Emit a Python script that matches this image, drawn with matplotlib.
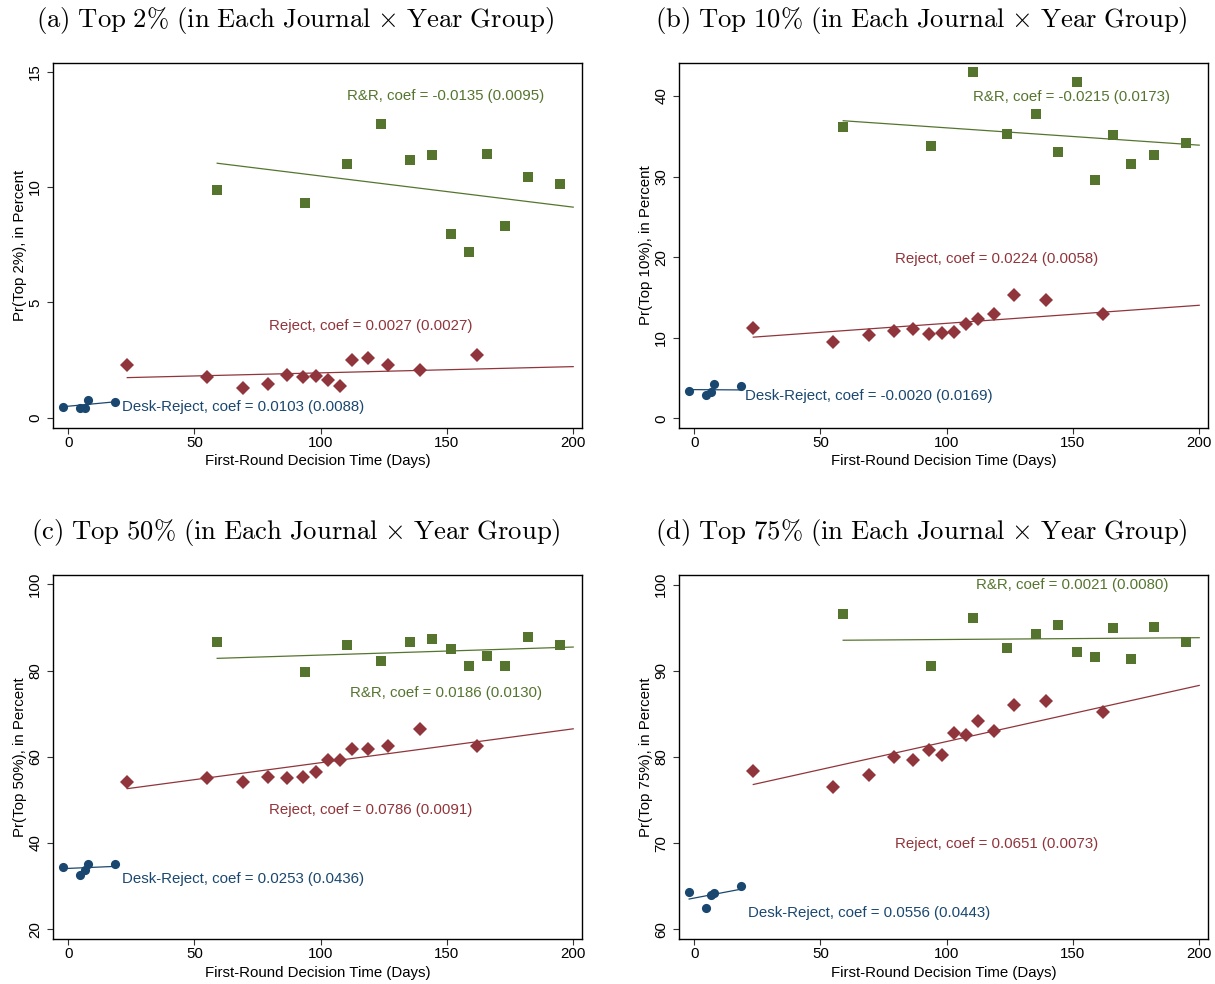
import matplotlib
matplotlib.use("Agg")
import matplotlib.pyplot as plt
import numpy as np

plt.rcParams["font.family"] = ["Liberation Sans", "DejaVu Sans"]
plt.rcParams["mathtext.fontset"] = "cm"

# Bin centres (days) for each decision group, shared by all panels
desk_days = [-2.0, 4.5, 6.8, 7.8, 18.7]
reject_days = [23.4, 55.0, 69.2, 79.1, 86.8, 92.8, 98.2, 103.0, 107.5,
               112.5, 118.9, 126.6, 139.5, 162.0]
rr_days = [59.0, 93.7, 110.6, 123.8, 135.2, 144.0, 151.7, 158.9, 165.8,
           173.0, 182.0, 194.7]

# Binned shares (percent), one list per panel
desk_top2 = [0.48, 0.41, 0.43, 0.77, 0.70]
reject_top2 = [2.30, 1.77, 1.28, 1.48, 1.84, 1.78, 1.80, 1.65, 1.36, 2.49,
               2.57, 2.29, 2.06, 2.71]
rr_top2 = [9.88, 9.32, 11.01, 12.75, 11.19, 11.39, 7.97, 7.19, 11.43, 8.32,
           10.45, 10.14]

desk_top10 = [3.36, 2.90, 3.23, 4.31, 3.98]
reject_top10 = [11.19, 9.49, 10.32, 10.86, 11.02, 10.44, 10.57, 10.73, 11.69,
                12.27, 12.93, 15.33, 14.71, 12.89]
rr_top10 = [36.18, 33.82, 42.93, 35.31, 37.71, 33.07, 41.69, 29.63, 35.18,
            31.50, 32.74, 34.11]

desk_top50 = [34.45, 32.67, 33.68, 35.22, 35.22]
reject_top50 = [54.16, 55.01, 54.16, 55.39, 55.01, 55.24, 56.48, 59.18, 59.34,
                61.73, 61.73, 62.58, 66.37, 62.58]
rr_top50 = [86.69, 79.58, 85.84, 82.13, 86.69, 87.23, 84.91, 81.13, 83.29,
            81.13, 87.70, 85.84]

desk_top75 = [64.37, 62.51, 63.98, 64.21, 65.02]
reject_top75 = [78.36, 76.50, 77.86, 79.98, 79.67, 80.79, 80.29, 82.84, 82.61,
                84.12, 83.03, 86.01, 86.51, 85.20]
rr_top75 = [96.64, 90.61, 96.17, 92.70, 94.32, 95.36, 92.15, 91.65, 95.01,
            91.42, 95.13, 93.39]

# Regression slopes and standard errors: [desk, reject, R&R]
coef_top2 = [0.0103, 0.0027, -0.0135]
se_top2 = [0.0088, 0.0027, 0.0095]
coef_top10 = [-0.0020, 0.0224, -0.0215]
se_top10 = [0.0169, 0.0058, 0.0173]
coef_top50 = [0.0253, 0.0786, 0.0186]
se_top50 = [0.0436, 0.0091, 0.0130]
coef_top75 = [0.0556, 0.0651, 0.0021]
se_top75 = [0.0443, 0.0073, 0.0080]

# Fitted value at the left end of each fit line: [desk, reject, R&R]
fit_start_top2 = [0.48, 1.74, 11.03]
fit_start_top10 = [3.56, 10.07, 36.93]
fit_start_top50 = [34.07, 52.61, 82.83]
fit_start_top75 = [63.52, 76.81, 93.55]

# Fit line spans (days): [desk, reject, R&R]
fit_span = [(-2.0, 18.7), (23.4, 200.0), (59.0, 200.0)]

panel_titles = [
    r"$\mathrm{(a)\ Top\ 2\%\ (in\ Each\ Journal}\ {\times}\ \mathrm{Year\ Group)}$",
    r"$\mathrm{(b)\ Top\ 10\%\ (in\ Each\ Journal}\ {\times}\ \mathrm{Year\ Group)}$",
    r"$\mathrm{(c)\ Top\ 50\%\ (in\ Each\ Journal}\ {\times}\ \mathrm{Year\ Group)}$",
    r"$\mathrm{(d)\ Top\ 75\%\ (in\ Each\ Journal}\ {\times}\ \mathrm{Year\ Group)}$",
]
y_labels = ["Pr(Top 2%), in Percent", "Pr(Top 10%), in Percent",
            "Pr(Top 50%), in Percent", "Pr(Top 75%), in Percent"]
y_ticks = [[0, 5, 10, 15], [0, 10, 20, 30, 40], [20, 40, 60, 80, 100],
           [60, 70, 80, 90, 100]]
y_limits = [(-0.43, 15.36), (-1.17, 44.06), (17.75, 102.16), (58.88, 101.12)]
x_ticks = [0, 50, 100, 150, 200]

group_names = ["Desk-Reject", "Reject", "R&R"]
group_colors = ["#1A476F", "#90353B", "#55752F"]
group_markers = ["o", "D", "s"]
group_msize = [6.6, 7.4, 6.8]

# Label anchor positions (days, value) per panel: [desk, reject, R&R]
label_pos = [
    [(21.2, 0.48), (79.6, 3.96), (110.5, 13.96)],
    [(20.3, 2.82), (79.5, 19.8), (110.5, 39.9)],
    [(21.2, 31.67), (79.6, 47.67), (111.7, 74.87)],
    [(21.5, 61.93), (79.5, 69.89), (111.8, 99.92)],
]

panels = [
    (desk_top2, reject_top2, rr_top2, coef_top2, se_top2, fit_start_top2),
    (desk_top10, reject_top10, rr_top10, coef_top10, se_top10, fit_start_top10),
    (desk_top50, reject_top50, rr_top50, coef_top50, se_top50, fit_start_top50),
    (desk_top75, reject_top75, rr_top75, coef_top75, se_top75, fit_start_top75),
]
group_days = [desk_days, reject_days, rr_days]

W, H = 1215, 984
fig = plt.figure(figsize=(W / 100, H / 100), dpi=100)
fig.patch.set_facecolor("white")

# axes boxes in pixels: left, top, right, bottom
boxes = [(53.3, 63.3, 582.3, 427.7), (679.3, 63.3, 1208.3, 427.7),
         (53.3, 575.0, 582.3, 939.0), (679.3, 575.0, 1208.3, 939.0)]
title_xy = [(295, 21), (921, 21), (296, 532), (921, 532)]

FS = 10.8
for i, (vals_d, vals_r, vals_rr, coefs, ses, starts) in enumerate(panels):
    l, t, r, b = boxes[i]
    ax = fig.add_axes([l / W, 1 - b / H, (r - l) / W, (b - t) / H])
    series = [vals_d, vals_r, vals_rr]
    for g in range(3):
        ax.plot(group_days[g], series[g], linestyle="none",
                marker=group_markers[g], markersize=group_msize[g],
                color=group_colors[g], markeredgewidth=0, zorder=3)
        x0, x1 = fit_span[g]
        y0 = starts[g]
        y1 = y0 + coefs[g] * (x1 - x0)
        ax.plot([x0, x1], [y0, y1], color=group_colors[g], linewidth=0.9,
                zorder=2)
        lx, ly = label_pos[i][g]
        ax.text(lx, ly, f"{group_names[g]}, coef = {coefs[g]:.4f} ({ses[g]:.4f})",
                color=group_colors[g], fontsize=FS, ha="left", va="center")

    ax.set_xlim(-5.9, 203.6)
    ax.set_ylim(*y_limits[i])
    ax.set_xticks(x_ticks)
    ax.set_yticks(y_ticks[i])
    ax.set_yticklabels([str(v) for v in y_ticks[i]], rotation=90, va="center")
    ax.tick_params(axis="both", direction="out", length=4, width=0.8,
                   labelsize=FS, color="#333333")
    ax.tick_params(axis="y", pad=4)
    ax.tick_params(axis="x", pad=2)
    for s in ax.spines.values():
        s.set_linewidth(1.0)
        s.set_color("black")
    ax.set_xlabel("First-Round Decision Time (Days)", fontsize=FS, labelpad=3)
    ax.set_ylabel(y_labels[i], fontsize=FS, labelpad=1)

    tx, ty = title_xy[i]
    fig.text(tx / W, 1 - ty / H, panel_titles[i], fontsize=19.2,
             ha="center", va="center")

fig.savefig("out.png", dpi=100, facecolor="white")
